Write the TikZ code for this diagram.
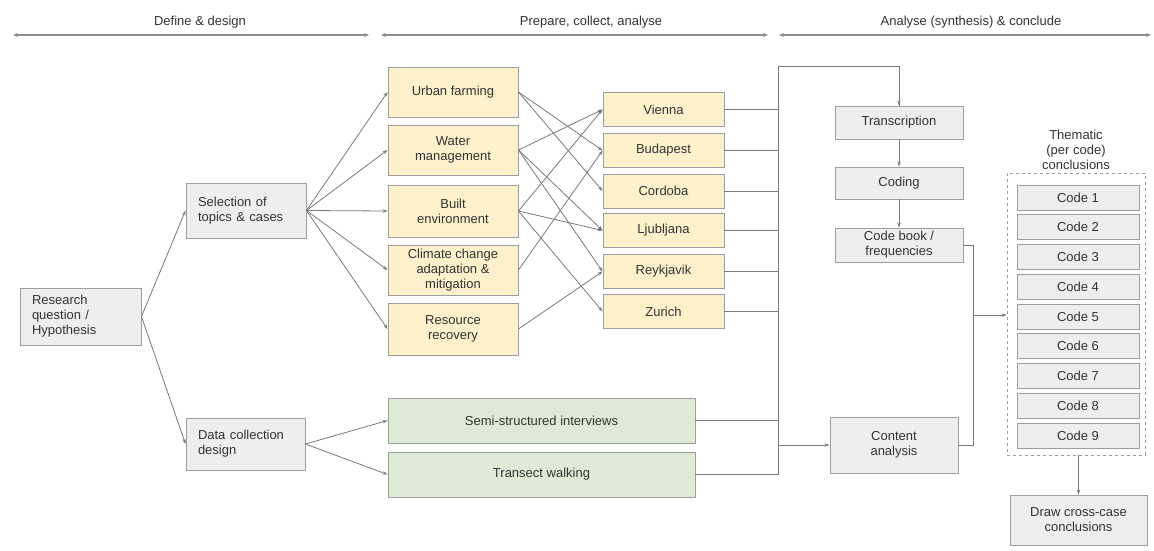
\documentclass[tikz,border=0pt]{standalone}
\usepackage{fontspec}
\setmainfont{Liberation Sans}
\usetikzlibrary{arrows.meta}
\definecolor{ln}{HTML}{7A7A7A}
\definecolor{bd}{HTML}{9E9E9E}
\definecolor{yel}{HTML}{FCF1CB}
\definecolor{grn}{HTML}{DDEBD6}
\definecolor{gry}{HTML}{EEEEEE}
\definecolor{txt}{HTML}{333333}
\tikzset{
  base/.style={draw=bd, line width=0.9pt, text=txt, inner sep=2pt,
    font=\fontsize{13}{15}\selectfont, align=center},
  ybox/.style={base, fill=yel},
  gbox/.style={base, fill=grn},
  sbox/.style={base, fill=gry},
  lbox/.style={base, fill=gry, align=left},
  conn/.style={draw=ln, line width=0.8pt, -{Stealth[length=5pt,width=3.5pt]}},
  plain/.style={draw=ln, line width=0.8pt},
  hdr/.style={draw=ln!85, line width=1.1pt, {Stealth[length=5pt,width=4pt]}-{Stealth[length=5pt,width=4pt]}},
  htxt/.style={text=txt, font=\fontsize{13}{15}\selectfont},
}
\begin{document}
\begin{tikzpicture}[x=1pt,y=-1pt]
\useasboundingbox (0,0) rectangle (1154,550);
\fill[white] (0,0) rectangle (1154,550);

% headers
\node[htxt] (h1) at (200,22) {Define \& design};
\node[htxt] (h2) at (591,22) {Prepare, collect, analyse};
\node[htxt] (h3) at (971,22) {Analyse (synthesis) \& conclude};
\coordinate (h1a) at (13,35); \coordinate (h1b) at (369,35);
\coordinate (h2a) at (381,35); \coordinate (h2b) at (768,35);
\coordinate (h3a) at (779,35); \coordinate (h3b) at (1151,35);
\draw[hdr] (h1a) -- (h1b);
\draw[hdr] (h2a) -- (h2b);
\draw[hdr] (h3a) -- (h3b);

% left column
\node[lbox, minimum width=121pt, minimum height=57pt, text width=97pt] (rq) at (80.5,316.5) {Research\\question /\\Hypothesis};
\node[lbox, minimum width=120pt, minimum height=55pt, text width=96pt] (sel) at (246,210.5) {Selection of\\topics \& cases};
\node[lbox, minimum width=119pt, minimum height=52pt, text width=95pt] (dcd) at (245.5,444) {Data collection\\design};

% topics
\tikzset{topic/.style={ybox, minimum width=130pt}}
\node[topic, minimum height=50pt] (uf) at (453,92) {Urban farming};
\node[topic, minimum height=50pt] (wm) at (453,150) {Water\\management};
\node[topic, minimum height=52pt] (be) at (453,211) {Built\\environment};
\node[topic, minimum height=50pt] (cc) at (453,270) {Climate change\\adaptation \&\\mitigation};
\node[topic, minimum height=52pt] (rr) at (453,329) {Resource\\recovery};

% cities
\tikzset{city/.style={ybox, minimum width=121pt, minimum height=34pt}}
\node[city] (vi) at (663.5,109.5) {Vienna};
\node[city] (bu) at (663.5,150.5) {Budapest};
\node[city] (co) at (663.5,191) {Cordoba};
\node[city] (lj) at (663.5,230.5) {Ljubljana};
\node[city] (re) at (663.5,271.5) {Reykjavik};
\node[city] (zu) at (663.5,311.5) {Zurich};

% green methods
\node[gbox, minimum width=307pt, minimum height=45pt] (ssi) at (541.5,420.5) {Semi-structured interviews};
\node[gbox, minimum width=307pt, minimum height=45pt] (tw) at (541.5,474.5) {Transect walking};

% analysis column
\node[sbox, minimum width=128pt, minimum height=33pt] (tr) at (899,122.5) {Transcription};
\node[sbox, minimum width=128pt, minimum height=32pt] (cd) at (899,183) {Coding};
\node[sbox, minimum width=128pt, minimum height=34pt] (cb) at (899,245) {Code book /\\frequencies};
\node[sbox, minimum width=128pt, minimum height=56pt] (ca) at (894,445) {Content\\analysis};

% codes
\node[draw=bd, dashed, line width=0.9pt, minimum width=138pt, minimum height=282pt] (grp) at (1076,314) {};
\node[htxt, align=center] (thm) at (1076,150) {Thematic\\(per code)\\conclusions};
\foreach \i in {1,...,9} {
  \node[sbox, minimum width=122pt, minimum height=25pt] (c\i) at (1078,{197.5+29.75*(\i-1)}) {Code \i};
}
\node[sbox, minimum width=137pt, minimum height=50pt] (dcc) at (1078.5,520) {Draw cross-case\\conclusions};

% connectors left
\draw[conn] (rq.east) -- (sel.west);
\draw[conn] (rq.east) -- (dcd.west);
\foreach \t in {uf,wm,be,cc,rr} { \draw[conn] (sel.east) -- (\t.west); }
\draw[conn] (dcd.east) -- (ssi.west);
\draw[conn] (dcd.east) -- (tw.west);

% topics -> cities
\draw[conn] (uf.east) -- (bu.west);
\draw[conn] (uf.east) -- (co.west);
\draw[conn] (wm.east) -- (vi.west);
\draw[conn] (wm.east) -- (lj.west);
\draw[conn] (wm.east) -- (re.west);
\draw[conn] (be.east) -- (vi.west);
\draw[conn] (be.east) -- (lj.west);
\draw[conn] (be.east) -- (zu.west);
\draw[conn] (cc.east) -- (bu.west);
\draw[conn] (rr.east) -- (re.west);

% bus
\coordinate (bt) at (778,66);
\coordinate (bb) at (778,475);
\coordinate (bc) at (778,445);
\draw[plain] (bb) -- (bt) -| (tr.north) coordinate[pos=0.5] (btr);
\draw[conn] (btr) -- (tr.north);
\foreach \c in {vi,bu,co,lj,re,zu} { \draw[plain] (\c.east) -- (\c.east -| bt); }
\draw[plain] (ssi.east) -- (ssi.east -| bt);
\draw[plain] (tw.east) -- (tw.east -| bt);
\draw[conn] (bc) -- (ca.west |- bc);

\draw[conn] (tr.south) -- (cd.north);
\draw[conn] (cd.south) -- (cb.north);

\coordinate (rj) at (973,315);
\draw[plain] (cb.east) -| (rj);
\draw[plain] (ca.east) -| (rj);
\draw[conn] (rj) -- (grp.west |- rj);
\draw[conn] (grp.south -| dcc.north) -- (dcc.north);
\end{tikzpicture}
\end{document}
